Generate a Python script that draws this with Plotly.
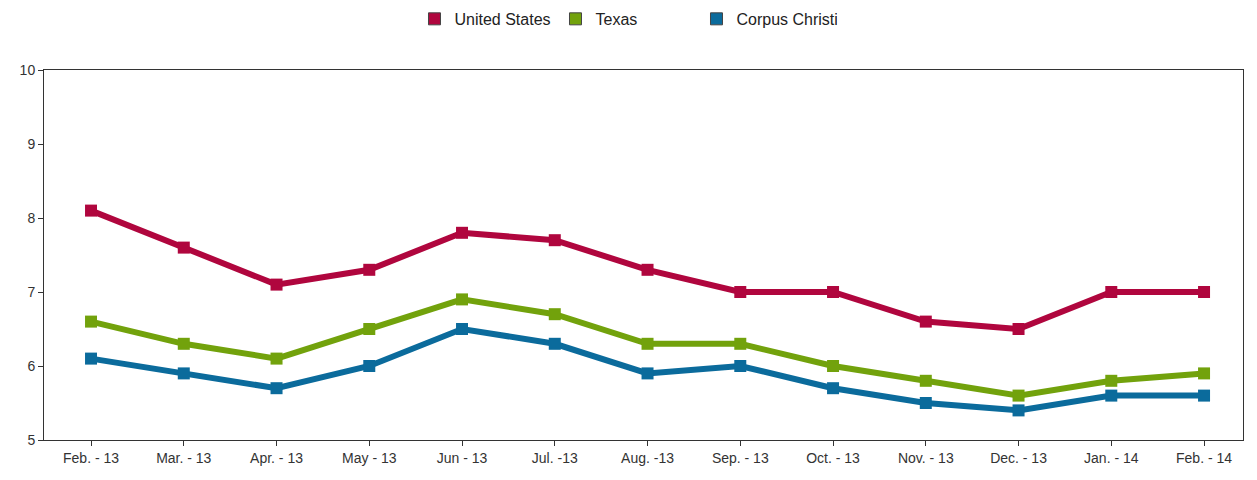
import plotly.graph_objects as go

months = ["Feb. - 13", "Mar. - 13", "Apr. - 13", "May - 13", "Jun - 13", "Jul. -13",
          "Aug. -13", "Sep. - 13", "Oct. - 13", "Nov. - 13", "Dec. - 13", "Jan. - 14", "Feb. - 14"]
us = [8.1, 7.6, 7.1, 7.3, 7.8, 7.7, 7.3, 7.0, 7.0, 6.6, 6.5, 7.0, 7.0]
texas = [6.6, 6.3, 6.1, 6.5, 6.9, 6.7, 6.3, 6.3, 6.0, 5.8, 5.6, 5.8, 5.9]
corpus = [6.1, 5.9, 5.7, 6.0, 6.5, 6.3, 5.9, 6.0, 5.7, 5.5, 5.4, 5.6, 5.6]

series = [("United States", us, "#B0063E"), ("Texas", texas, "#72A20C"), ("Corpus Christi", corpus, "#0B6B9C")]

fig = go.Figure()
for name, vals, col in series:
    fig.add_trace(go.Scatter(x=months, y=vals, mode="lines+markers", name=name,
                             line=dict(color=col, width=6),
                             marker=dict(symbol="square", size=12, color=col),
                             showlegend=False))
for name, vals, col in series:
    fig.add_trace(go.Scatter(x=[None], y=[None], mode="markers", name=name,
                             marker=dict(symbol="square", size=12, color=col,
                                         line=dict(color="#444", width=1))))

fig.update_layout(
    width=1257, height=480,
    margin=dict(l=36, r=22, t=62, b=48, autoexpand=False),
    paper_bgcolor="white", plot_bgcolor="white",
    font=dict(family="Liberation Sans, Arial, sans-serif", size=14, color="#333"),
    legend=dict(orientation="h", x=0.309, xanchor="left", y=1.138, yanchor="middle",
                entrywidth=96, entrywidthmode="pixels", itemwidth=30,
                font=dict(size=16, color="#222"), traceorder="normal"),
    xaxis=dict(type="category", range=[-0.507, 12.42], showgrid=False,
               showline=True, linecolor="#333", linewidth=1, mirror=True,
               ticks="outside", ticklen=5, tickcolor="#333", zeroline=False),
    yaxis=dict(range=[5, 10], dtick=1, showgrid=False,
               showline=True, linecolor="#333", linewidth=1, mirror=True,
               ticks="outside", ticklen=5, tickcolor="#333", zeroline=False),
)
fig.write_html("out.html")
